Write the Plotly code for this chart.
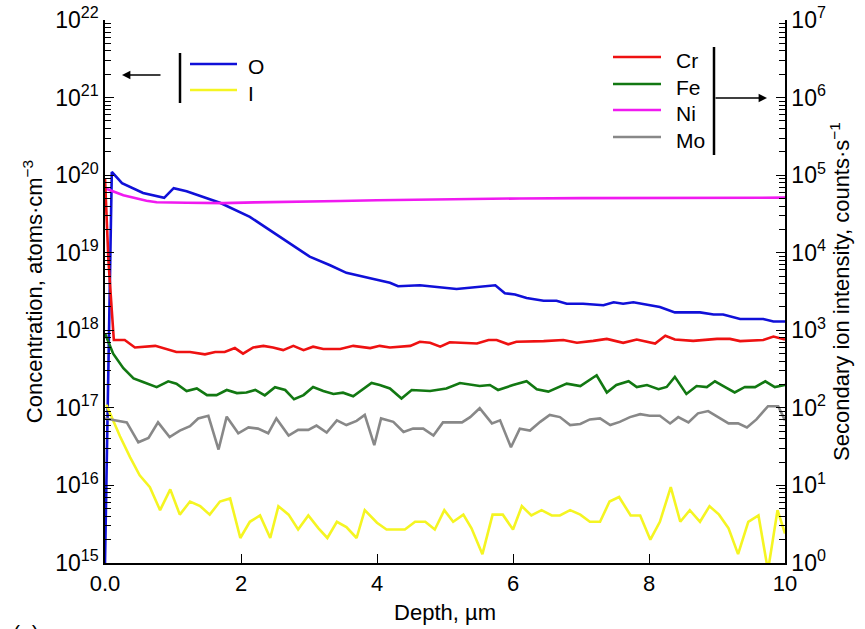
import plotly.graph_objects as go

# ---------------- data ----------------
# Left axis (concentration, atoms/cm^3)
o_depth = [0.0, 0.1, 0.25, 0.56, 0.87, 1.01, 1.2, 1.40, 1.69, 2.13, 2.52, 3.01, 3.31, 3.55, 3.90, 4.19,
           4.31, 4.63, 5.17, 5.74, 5.88, 6.03, 6.20, 6.45, 6.64, 6.79, 7.03, 7.33, 7.48, 7.62, 7.77,
           8.16, 8.38, 8.75, 8.95, 9.09, 9.34, 9.68, 9.83, 10.0]
o_conc = [1.0e15, 1.1e20, 7.9e19, 5.9e19, 5.1e19, 6.8e19, 6.2e19, 5.4e19, 4.4e19, 2.9e19, 1.7e19, 8.9e18,
          6.9e18, 5.5e18, 4.7e18, 4.1e18, 3.7e18, 3.8e18, 3.4e18, 3.8e18, 3.0e18, 2.9e18, 2.6e18,
          2.4e18, 2.4e18, 2.2e18, 2.2e18, 2.1e18, 2.3e18, 2.2e18, 2.3e18, 2.0e18, 1.7e18, 1.7e18,
          1.6e18, 1.6e18, 1.4e18, 1.4e18, 1.3e18, 1.3e18]

i_depth = [0.02, 0.22, 0.37, 0.51, 0.66, 0.81, 0.96, 1.10, 1.25, 1.40, 1.54, 1.69, 1.84, 1.99, 2.13,
           2.28, 2.43, 2.55, 2.70, 2.84, 2.99, 3.14, 3.27, 3.41, 3.55, 3.70, 3.82, 4.0, 4.14, 4.27,
           4.41, 4.56, 4.71, 4.85, 4.99, 5.12, 5.27, 5.39, 5.55, 5.70, 5.85, 6.0, 6.13, 6.27, 6.42,
           6.57, 6.69, 6.84, 6.99, 7.13, 7.28, 7.42, 7.56, 7.73, 7.87, 8.02, 8.16, 8.32, 8.46, 8.60,
           8.75, 8.89, 9.03, 9.17, 9.31, 9.46, 9.61, 9.75, 9.89, 10.0]
i_conc = [1.1e17, 4.3e16, 2.3e16, 1.35e16, 9.5e15, 4.8e15, 8.9e15, 4.2e15, 6.2e15, 5.4e15, 4.2e15,
          6.2e15, 6.8e15, 2.1e15, 3.4e15, 4.1e15, 2.1e15, 5.4e15, 4.2e15, 2.7e15, 4.1e15, 2.8e15,
          2.1e15, 3.4e15, 2.9e15, 2.1e15, 4.8e15, 3.3e15, 2.7e15, 2.7e15, 2.7e15, 3.4e15, 3.4e15,
          2.7e15, 4.8e15, 3.4e15, 4.2e15, 2.8e15, 1.3e15, 4.2e15, 4.2e15, 2.7e15, 5.4e15, 4.1e15,
          4.8e15, 4.1e15, 4.1e15, 4.8e15, 4.2e15, 3.4e15, 3.4e15, 6.2e15, 7.1e15, 4.1e15, 4.1e15,
          2.0e15, 3.4e15, 9.5e15, 3.4e15, 4.8e15, 3.4e15, 5.4e15, 4.2e15, 2.8e15, 1.3e15, 3.4e15,
          4.1e15, 8.0e14, 4.8e15, 2.4e15]

# Right axis (secondary ion intensity, counts/s)
cr_depth = [0.0, 0.05, 0.1, 0.13, 0.29, 0.44, 0.74, 1.05, 1.25, 1.47, 1.62, 1.76, 1.91, 2.03, 2.18,
            2.33, 2.47, 2.62, 2.77, 2.92, 3.06, 3.21, 3.46, 3.65, 3.90, 4.04, 4.19, 4.49, 4.63, 4.78,
            4.93, 5.07, 5.47, 5.64, 5.76, 5.93, 6.05, 6.25, 6.45, 6.74, 6.94, 7.18, 7.38, 7.62, 7.82,
            8.09, 8.24, 8.38, 8.65, 9.0, 9.19, 9.34, 9.68, 9.83, 10.0]
cr_counts = [91000, 8100, 1800, 750, 750, 600, 630, 525, 525, 490, 525, 525, 590, 500, 600, 630, 600,
             555, 630, 555, 615, 575, 575, 630, 590, 630, 600, 630, 710, 690, 615, 700, 675, 750, 750,
             660, 710, 710, 725, 750, 690, 730, 775, 690, 760, 675, 850, 760, 730, 775, 775, 725, 750,
             830, 760]

fe_depth = [0.0, 0.12, 0.27, 0.42, 0.56, 0.76, 0.93, 1.05, 1.20, 1.35, 1.50, 1.64, 1.79, 1.94, 2.08,
            2.21, 2.35, 2.50, 2.65, 2.78, 2.92, 3.06, 3.21, 3.36, 3.50, 3.65, 3.92, 4.04, 4.19, 4.36,
            4.51, 4.78, 5.02, 5.22, 5.51, 5.66, 5.78, 6.0, 6.20, 6.35, 6.52, 6.79, 6.99, 7.23, 7.38,
            7.52, 7.70, 7.82, 7.97, 8.14, 8.26, 8.38, 8.55, 8.70, 8.85, 8.97, 9.12, 9.26, 9.41, 9.56,
            9.71, 9.85, 10.0]
fe_counts = [910, 500, 325, 240, 215, 185, 220, 205, 165, 178, 146, 146, 170, 155, 158, 170, 145, 185,
             170, 129, 146, 186, 165, 151, 157, 141, 209, 197, 178, 132, 170, 165, 178, 209, 191, 197,
             170, 197, 220, 174, 162, 205, 191, 263, 158, 197, 220, 185, 197, 174, 186, 251, 151, 191,
             185, 220, 185, 158, 186, 185, 220, 185, 197]

ni_depth = [0.0, 0.27, 0.61, 0.76, 1.2, 1.74, 2.2, 2.72, 3.46, 4.0, 4.93, 5.5, 6.10, 7.0, 8.0, 8.95,
            9.5, 10.0]
ni_counts = [67600, 55000, 46800, 44700, 44000, 43600, 44500, 45700, 46500, 47500, 49000, 49500,
             50100, 50500, 51000, 51300, 50800, 51300]

mo_depth = [0.0, 0.32, 0.49, 0.64, 0.78, 0.95, 1.10, 1.25, 1.37, 1.52, 1.67, 1.79, 1.96, 2.11, 2.25,
            2.40, 2.52, 2.70, 2.84, 2.99, 3.11, 3.26, 3.41, 3.55, 3.70, 3.82, 3.96, 4.06, 4.24, 4.39,
            4.53, 4.68, 4.83, 4.97, 5.25, 5.37, 5.51, 5.69, 5.81, 5.97, 6.10, 6.25, 6.40, 6.54, 6.69,
            6.84, 6.99, 7.13, 7.28, 7.43, 7.57, 7.72, 7.87, 8.01, 8.16, 8.31, 8.43, 8.58, 8.72, 8.87,
            9.17, 9.31, 9.44, 9.58, 9.75, 9.90, 10.0]
mo_counts = [73, 65, 36, 41, 65, 42, 51, 58, 73, 79, 29, 77, 47, 56, 54, 47, 73, 44, 52, 52, 59, 48,
             69, 60, 68, 81, 33, 73, 66, 49, 54, 54, 44, 65, 65, 76, 99, 63, 69, 31, 54, 51, 66, 81,
             76, 60, 62, 71, 73, 60, 66, 76, 83, 79, 79, 63, 76, 65, 85, 91, 63, 63, 56, 71, 105, 105, 69]

# tick labels
x_tickvals = [0, 2, 4, 6, 8, 10]
x_ticktext = ["0.0", "2", "4", "6", "8", "10"]
left_exponents = [15, 16, 17, 18, 19, 20, 21, 22]
right_exponents = [0, 1, 2, 3, 4, 5, 6, 7]

# ---------------- styles ----------------
colors = {"O": "#1010d8", "I": "#f5f522", "Cr": "#ee1111", "Fe": "#127812",
          "Ni": "#f01af0", "Mo": "#888888"}
FONT = "Liberation Sans, Arial, sans-serif"
TICK_SIZE = 23
XTICK_SIZE = 22
TITLE_SIZE = 22
LEG_SIZE = 21
W, H = 865, 629
L, R, T, B = 105, 80, 20, 66
PW, PH = W - L - R, H - T - B


def px(xp):
    return (xp - L) / PW


def py(yp):
    return (H - B - yp) / PH


fig = go.Figure()
lw = 2.6
fig.add_trace(go.Scatter(x=o_depth, y=o_conc, mode="lines", name="O",
                         line=dict(color=colors["O"], width=lw), yaxis="y"))
fig.add_trace(go.Scatter(x=i_depth, y=i_conc, mode="lines", name="I",
                         line=dict(color=colors["I"], width=lw), yaxis="y"))
for name, xs, ys in [("Ni", ni_depth, ni_counts), ("Mo", mo_depth, mo_counts),
                     ("Fe", fe_depth, fe_counts), ("Cr", cr_depth, cr_counts)]:
    fig.add_trace(go.Scatter(x=xs, y=ys, mode="lines", name=name,
                             line=dict(color=colors[name], width=lw), yaxis="y2"))

axis_common = dict(showline=True, linecolor="black", linewidth=1.5, ticks="inside",
                   tickcolor="black", showgrid=False, zeroline=False, automargin=False)

fig.update_layout(
    width=W, height=H,
    margin=dict(l=L, r=R, t=T, b=B, autoexpand=False),
    paper_bgcolor="white", plot_bgcolor="white",
    showlegend=False,
    font=dict(family=FONT, size=TICK_SIZE, color="black"),
    xaxis=dict(range=[0, 10], tickvals=x_tickvals, ticktext=x_ticktext, ticklen=9,
               tickfont=dict(family=FONT, size=XTICK_SIZE, color="black"),
               title=dict(text="Depth, µm", font=dict(family=FONT, size=TITLE_SIZE), standoff=9),
               **axis_common),
    yaxis=dict(type="log", range=[15, 22],
               tickvals=[10.0 ** e for e in left_exponents],
               ticktext=[f"10<sup>{e}</sup>" for e in left_exponents],
               tickfont=dict(family=FONT, size=TICK_SIZE, color="black"),
               ticklen=9, minor=dict(ticks="inside", ticklen=6, dtick="D1", tickcolor="black"),
               title=dict(text="Concentration, atoms·cm<sup>−3</sup>",
                          font=dict(family=FONT, size=TITLE_SIZE), standoff=6),
               **axis_common),
    yaxis2=dict(type="log", range=[0, 7], overlaying="y", side="right",
                tickvals=[10.0 ** e for e in right_exponents],
                ticktext=[f"10<sup>{e}</sup>" for e in right_exponents],
                tickfont=dict(family=FONT, size=TICK_SIZE, color="black"),
                ticklen=9, minor=dict(ticks="inside", ticklen=6, dtick="D1", tickcolor="black"),
                title=dict(text="Secondary ion intensity, counts·s<sup>−1</sup>",
                           font=dict(family=FONT, size=TITLE_SIZE), standoff=9),
                **axis_common),
)

shapes = []
annotations = []
# left legend (O, I)
shapes.append(dict(type="line", xref="paper", yref="paper", x0=px(180), x1=px(180),
                   y0=py(53), y1=py(103), line=dict(color="black", width=2.5)))
for name, yl, yt in [("O", 64, 66), ("I", 90, 94)]:
    shapes.append(dict(type="line", xref="paper", yref="paper", x0=px(190), x1=px(237),
                       y0=py(yl), y1=py(yl), line=dict(color=colors[name], width=lw)))
    annotations.append(dict(xref="paper", yref="paper", x=px(246), y=py(yt), text=name,
                            showarrow=False, xanchor="left", yanchor="middle",
                            font=dict(family=FONT, size=LEG_SIZE, color="black")))
annotations.append(dict(xref="paper", yref="paper", x=px(122), y=py(75), ax=40, ay=0, text="",
                        showarrow=True, arrowhead=2, arrowsize=1.2, arrowwidth=1.4,
                        arrowcolor="black", standoff=0))
# right legend (Cr, Fe, Ni, Mo)
for name, yl in [("Cr", 57), ("Fe", 84), ("Ni", 110), ("Mo", 137)]:
    shapes.append(dict(type="line", xref="paper", yref="paper", x0=px(613), x1=px(661),
                       y0=py(yl), y1=py(yl), line=dict(color=colors[name], width=lw)))
    annotations.append(dict(xref="paper", yref="paper", x=px(674), y=py(yl + 3), text=name,
                            showarrow=False, xanchor="left", yanchor="middle",
                            font=dict(family=FONT, size=LEG_SIZE, color="black")))
shapes.append(dict(type="line", xref="paper", yref="paper", x0=px(714), x1=px(714),
                   y0=py(47), y1=py(155), line=dict(color="black", width=2.5)))
annotations.append(dict(xref="paper", yref="paper", x=px(767), y=py(98), ax=-53, ay=0, text="",
                        showarrow=True, arrowhead=2, arrowsize=1.2, arrowwidth=1.4,
                        arrowcolor="black", standoff=0))
# panel label (cut at the bottom edge)
annotations.append(dict(xref="paper", yref="paper", x=px(11), y=py(619), text="(a)",
                        showarrow=False, xanchor="left", yanchor="top",
                        font=dict(family=FONT, size=LEG_SIZE, color="black")))

fig.update_layout(shapes=shapes, annotations=annotations)
fig.write_html("out.html")
